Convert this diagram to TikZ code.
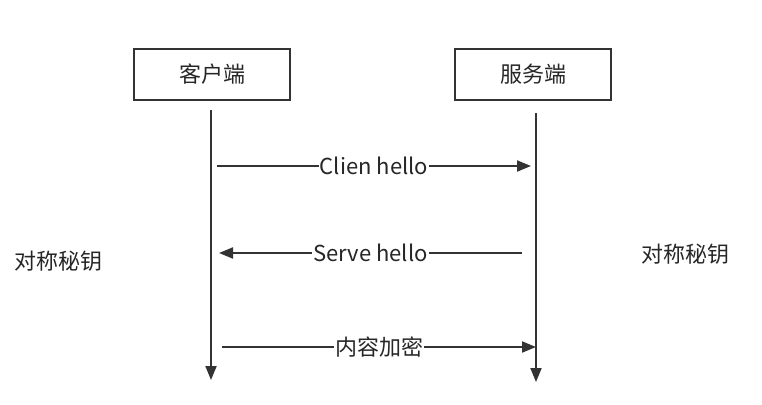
\documentclass[tikz,border=0pt]{standalone}
\usepackage{fontspec}
\setmainfont{Noto Sans CJK SC}
\usetikzlibrary{arrows.meta}
\definecolor{seqgray}{rgb}{0.2, 0.2, 0.2}
\definecolor{seqtext}{rgb}{0.15, 0.15, 0.15}
\tikzset{
  party/.style={draw=seqgray, line width=2pt, minimum width=156pt, minimum height=51pt, text=seqtext, font=\fontsize{22}{26}\selectfont},
  msg/.style={fill=white, inner sep=1pt, text=seqtext, font=\fontsize{22}{26}\selectfont},
  flow/.style={draw=seqgray, line width=2pt, -{Triangle[length=14pt,width=11pt]}}
}

\begin{document}
\begin{tikzpicture}[x=1pt, y=-1pt]
        \useasboundingbox (0, 0) rectangle (762, 404);
        \node[party] (client) at (212, 74.5) {客户端};
        \node[party] (server) at (533, 74.5) {服务端};
        \coordinate (ctop) at (211, 110);
        \coordinate (cbot) at (211, 380);
        \coordinate (stop) at (536, 113);
        \coordinate (sbot) at (536, 382);
        \draw[flow] (ctop) -- (cbot);
        \draw[flow] (stop) -- (sbot);
        \coordinate (m1a) at (217, 166);
        \coordinate (m1b) at (531, 166);
        \coordinate (m2a) at (522, 253);
        \coordinate (m2b) at (219, 253);
        \coordinate (m3a) at (222, 347);
        \coordinate (m3b) at (536, 347);
        \draw[flow] (m1a) -- (m1b) node[msg, midway] (hello1) {Clien hello};
        \draw[flow] (m2a) -- (m2b) node[msg, midway] (hello2) {Serve hello};
        \draw[flow] (m3a) -- (m3b) node[msg, midway] (crypt) {内容加密};
        \node[text=seqtext, font=\fontsize{22}{26}\selectfont] (lkey) at (58, 261) {对称秘钥};
        \node[text=seqtext, font=\fontsize{22}{26}\selectfont] (rkey) at (685, 254) {对称秘钥};
\end{tikzpicture}
\end{document}
